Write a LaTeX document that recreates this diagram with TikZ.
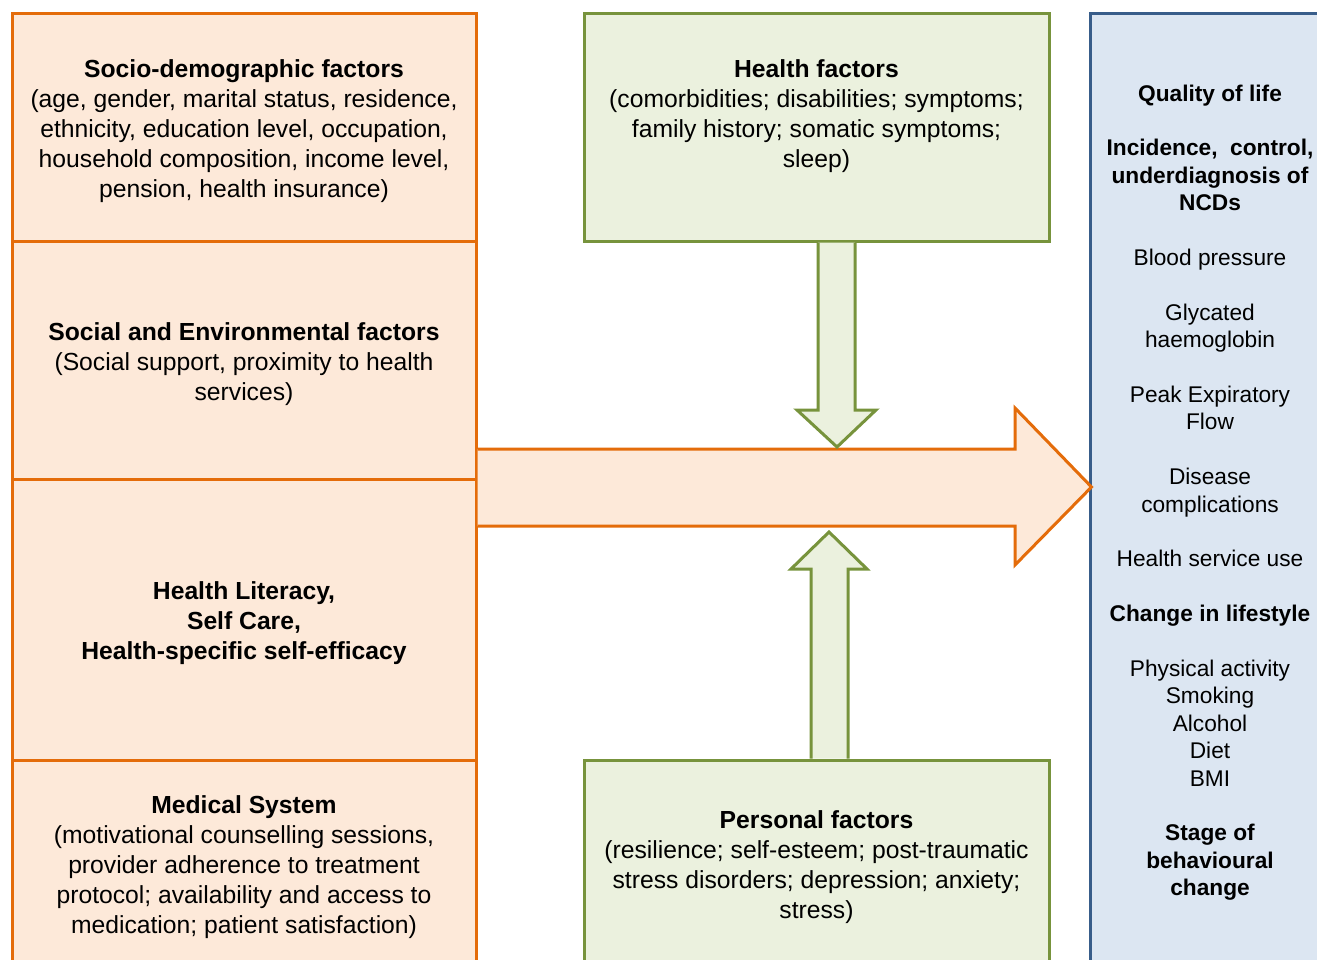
\documentclass[tikz,border=0pt]{standalone}
\usepackage{fontspec}
\setmainfont{Liberation Sans}
\usetikzlibrary{calc}
\definecolor{ordraw}{HTML}{E46C0A}
\definecolor{orfill}{HTML}{FDE9D9}
\definecolor{grdraw}{HTML}{77933C}
\definecolor{grfill}{HTML}{EBF1DE}
\definecolor{bldraw}{HTML}{385D8A}
\definecolor{blfill}{HTML}{DCE6F2}
\tikzset{
  obox/.style={draw=ordraw,fill=orfill,line width=3pt,minimum width=464pt,inner sep=0pt},
  gbox/.style={draw=grdraw,fill=grfill,line width=3pt,minimum width=465pt,inner sep=0pt},
  bbox/.style={draw=bldraw,fill=blfill,line width=3pt,minimum width=240pt,minimum height=956pt,inner sep=0pt},
  mtext/.style={align=center,inner sep=0pt,font=\fontsize{24.7}{30}\selectfont},
  rtext/.style={align=center,inner sep=0pt,font=\fontsize{22.7}{27.4}\selectfont},
  garrow/.style={draw=grdraw,fill=grfill,line width=3pt,line join=miter},
  oarrow/.style={draw=ordraw,line width=3pt,line join=miter},
}
\begin{document}
\begin{tikzpicture}[x=1pt,y=-1pt]
\useasboundingbox (0,0) rectangle (1317,960);
% right outcome column
\node[bbox] (out) at (1210,492) {};
\node[rtext] (outt) at (1210,492.5) {\textbf{Quality of life}\\[27.4pt]
\textbf{Incidence,\ \ control,}\\ \textbf{underdiagnosis of}\\ \textbf{NCDs}\\[27.4pt]
Blood pressure\\[27.4pt]
Glycated\\ haemoglobin\\[27.4pt]
Peak Expiratory\\ Flow\\[27.4pt]
Disease\\ complications\\[27.4pt]
Health service use\\[27.4pt]
\textbf{Change in lifestyle}\\[27.4pt]
Physical activity\\ Smoking\\ Alcohol\\ Diet\\ BMI\\[27.4pt]
\textbf{Stage of}\\ \textbf{behavioural}\\ \textbf{change}};
% left column
\node[obox,minimum height=227pt] (sd) at (244,127.5) {};
\node[mtext] (sdt) at (244,131.5) {\textbf{Socio-demographic factors}\\(age, gender, marital status, residence,\\ethnicity, education level, occupation,\\household composition, income level,\\pension, health insurance)};
\node[obox,minimum height=238pt] (se) at (244,360) {};
\node[mtext] (set) at (244,364) {\textbf{Social and Environmental factors}\\(Social support, proximity to health\\services)};
\node[obox,minimum height=281pt] (hl) at (244,619.5) {};
\node[mtext] (hlt) at (244,623.5) {\textbf{Health Literacy,}\\\textbf{Self Care,}\\\textbf{Health-specific self-efficacy}};
\node[obox,minimum height=210pt] (ms) at (244,865) {};
\node[mtext] (mst) at (244,867) {\textbf{Medical System}\\(motivational counselling sessions,\\provider adherence to treatment\\protocol; availability and access to\\medication; patient satisfaction)};
% middle column
\node[gbox,minimum height=227pt] (hf) at (816.5,127.5) {};
\node[mtext] (hft) at (816.5,116) {\textbf{Health factors}\\(comorbidities; disabilities; symptoms;\\family history; somatic symptoms;\\sleep)};
\node[gbox,minimum height=210pt] (pf) at (816.5,865) {};
\node[mtext] (pft) at (816.5,867.5) {\textbf{Personal factors}\\(resilience; self-esteem; post-traumatic\\stress disorders; depression; anxiety;\\stress)};
% big orange arrow
\coordinate (oa) at (se.east |- 0,449);
\coordinate (ob) at (se.east |- 0,526);
\coordinate (tip) at (out.west |- 0,487);
\fill[orfill] (oa) -- (1015,449) -- (1015,408) -- ($(tip)+(3,0)$) -- (1015,565) -- (1015,526) -- (ob) -- cycle;
\draw[oarrow] (oa) -- (1015,449) -- (1015,408) -- ($(tip)+(3,0)$) -- (1015,565) -- (1015,526) -- (ob);
% green down arrow
\draw[garrow] (hf.south -| 818,0) -- (818,410) -- (797,410) -- (837,447) -- (876,410) -- (855,410) -- (hf.south -| 855,0);
% green up arrow
\draw[garrow] (pf.north -| 811,0) -- (811,569) -- (791,569) -- (829,532) -- (867,569) -- (848,569) -- (pf.north -| 848,0);
\end{tikzpicture}
\end{document}
